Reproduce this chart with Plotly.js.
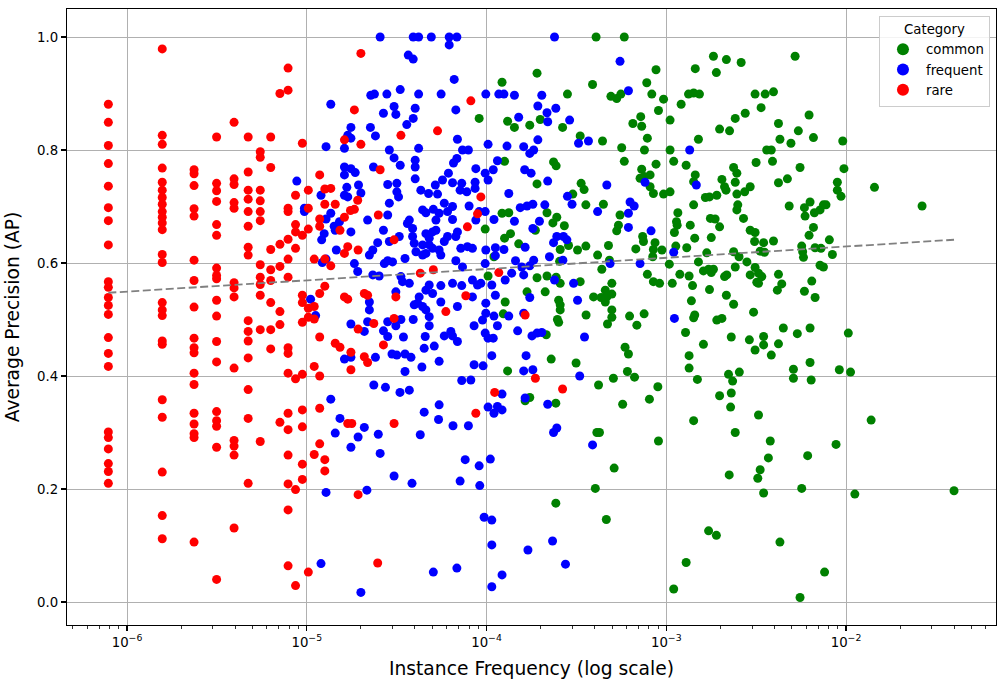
<!DOCTYPE html>
<html>
<head>
<meta charset="utf-8">
<script src="https://cdn.plot.ly/plotly-3.0.1.min.js"></script>
<style>html,body{margin:0;padding:0;background:#fff;}#chart{width:1006px;height:688px;}</style>
</head>
<body>
<div id="chart"></div>
<script>
// ---- DATA ----
const categories = ["common", "frequent", "rare"];
const categoryColors = ["#008000", "#0000ff", "#ff0000"];

// Rare categories sit on discrete frequency columns (1, 2, 3 ... instances)
const rareColumnFreq = [7.87e-7, 1.57e-6, 2.36e-6, 3.15e-6, 3.94e-6, 4.72e-6, 5.51e-6, 6.30e-6,
  7.09e-6, 7.87e-6, 8.66e-6, 9.45e-6, 1.02e-5, 1.10e-5, 1.18e-5, 1.26e-5];
const rareColumnAP = [
  [0.881,0.849,0.808,0.776,0.736,0.698,0.675,0.632,0.567,0.557,0.539,0.525,0.509,0.468,0.440,0.417,0.301,0.291,0.271,0.245,0.231,0.210],
  [0.979,0.826,0.810,0.768,0.743,0.729,0.716,0.704,0.691,0.681,0.671,0.659,0.615,0.601,0.530,0.517,0.507,0.462,0.456,0.358,0.327,0.230,0.153,0.112],
  [0.765,0.758,0.737,0.696,0.683,0.605,0.569,0.522,0.467,0.450,0.441,0.405,0.385,0.334,0.315,0.298,0.291,0.106],
  [0.823,0.741,0.728,0.709,0.668,0.649,0.591,0.578,0.572,0.534,0.506,0.461,0.425,0.337,0.321,0.311,0.274,0.040],
  [0.849,0.749,0.739,0.707,0.697,0.565,0.556,0.540,0.414,0.286,0.276,0.260,0.131],
  [0.823,0.761,0.729,0.713,0.691,0.665,0.628,0.614,0.498,0.479,0.462,0.432,0.376,0.325,0.210],
  [0.797,0.787,0.729,0.710,0.691,0.675,0.597,0.575,0.562,0.543,0.482,0.284],
  [0.823,0.769,0.624,0.588,0.569,0.530,0.482,0.448],
  [0.900,0.633,0.594,0.514,0.491,0.318],
  [0.945,0.906,0.697,0.691,0.642,0.607,0.575,0.450,0.440,0.405,0.334,0.305,0.260,0.209,0.163,0.064],
  [0.720,0.668,0.655,0.626,0.395,0.199,0.029],
  [0.812,0.649,0.543,0.530,0.495,0.403,0.340,0.310,0.244,0.217],
  [0.729,0.697,0.660,0.520,0.504,0.053],
  [0.607,0.523,0.501,0.417,0.261],
  [0.756,0.678,0.665,0.546,0.469,0.400,0.343,0.280],
  [0.731,0.704,0.607,0.559,0.252,0.232]
];
// Remaining rare points: [frequency, AP]
const rareOther = [
  [2.00e-5,0.971],[1.84e-5,0.871],[3.34e-5,0.826],[2.00e-5,0.810],[1.62e-5,0.818],[5.34e-5,0.834],[8.18e-5,0.887],[2.56e-5,0.765],[9.30e-5,0.717],[8.91e-5,0.687],
  [7.83e-5,0.664],[1.36e-5,0.732],[1.92e-5,0.711],[1.44e-5,0.704],[1.84e-5,0.695],[1.75e-5,0.693],[1.62e-5,0.681],[2.50e-5,0.685],[1.53e-5,0.658],[3.06e-5,0.641],
  [1.69e-5,0.629],[1.62e-5,0.617],[1.93e-5,0.623],[1.36e-5,0.595],[4.28e-5,0.582],[5.06e-5,0.588],[1.62e-5,0.540],[1.69e-5,0.536],[2.09e-5,0.546],[2.18e-5,0.543],
  [3.13e-5,0.540],[7.67e-5,0.542],[5.94e-5,0.514],
  [3.06e-5,0.502],[2.36e-5,0.493],[1.93e-5,0.483],[1.44e-5,0.458],[1.53e-5,0.451],[2.67e-5,0.455],[1.76e-5,0.442],[2.09e-5,0.434],[2.18e-5,0.424],[1.76e-5,0.411],
  [8.72e-5,0.334],[1.69e-5,0.316],[1.78e-5,0.316],[3.06e-5,0.316],[1.93e-5,0.190],[2.48e-5,0.069],
  [1.17e-4,0.583],[1.64e-4,0.508],[1.87e-4,0.396],[2.65e-4,0.377],[1.11e-4,0.371]
];

// Frequent points: [frequency, AP]
const frequentPoints = [
  [1.28e-5,0.806],[8.8e-6,0.745],[1.20e-5,0.720],[9.7e-6,0.697],[9.7e-6,0.691],[1.28e-5,0.678],[1.25e-5,0.652],[1.21e-5,0.641],[1.28e-5,0.607],[1.22e-5,0.601],
  [1.05e-5,0.536],[1.12e-5,0.507],[1.28e-5,0.194],[1.20e-5,0.068],
  [2.56e-5,1.000],[3.91e-5,1.000],[4.19e-5,1.000],[4.93e-5,1.000],[6.20e-5,1.000],[6.84e-5,1.000],[6.20e-5,0.986],[3.67e-5,0.968],[3.91e-5,0.961],[6.61e-5,0.925],
  [2.27e-5,0.897],[2.38e-5,0.899],[2.79e-5,0.899],[3.31e-5,0.907],[4.19e-5,0.899],[5.59e-5,0.899],[9.91e-5,0.899],[1.36e-5,0.881],[3.06e-5,0.877],
  [4.01e-5,0.874],[3.13e-5,0.863],[2.67e-5,0.865],[6.75e-5,0.871],[3.91e-5,0.856],[3.60e-5,0.845],[1.76e-5,0.840],[2.26e-5,0.840],[2.41e-5,0.825],[1.69e-5,0.826],
  [1.76e-5,0.821],[6.89e-5,0.819],[1.02e-4,0.810],[1.62e-5,0.803],[4.19e-5,0.803],[2.88e-5,0.800],[3.06e-5,0.786],[3.31e-5,0.773],[4.01e-5,0.782],[4.01e-5,0.770],
  [7.35e-5,0.800],[7.93e-5,0.800],[6.55e-5,0.777],[6.84e-5,0.785],[1.62e-5,0.770],[1.76e-5,0.767],[1.86e-5,0.760],[1.62e-5,0.756],[2.35e-5,0.770],[8.72e-5,0.767],
  [9.83e-5,0.759],[1.02e-4,0.747],[4.01e-5,0.749],[2.82e-5,0.739],[3.17e-5,0.741],[3.17e-5,0.726],[3.24e-5,0.717],[1.94e-5,0.738],[2.00e-5,0.724],[1.67e-5,0.734],
  [1.62e-5,0.720],[1.69e-5,0.717],[4.31e-5,0.729],[4.76e-5,0.723],[5.34e-5,0.722],[5.19e-5,0.738],[5.69e-5,0.747],[6.14e-5,0.759],[6.47e-5,0.742],[7.28e-5,0.741],
  [7.13e-5,0.729],[7.77e-5,0.726],[8.64e-5,0.743],[8.64e-5,0.732],[2.88e-5,0.706],[5.82e-5,0.706],[6.47e-5,0.700],[8.00e-5,0.701],[6.07e-5,0.691],[4.41e-5,0.694],
  [5.06e-5,0.695],[5.45e-5,0.688],[4.60e-5,0.689],[2.82e-5,0.685],[1.36e-5,0.688],[1.42e-5,0.665],[1.52e-5,0.673],[2.18e-5,0.676],[3.72e-5,0.676],[3.63e-5,0.670],
  [3.88e-5,0.661],[5.23e-5,0.676],[6.47e-5,0.677],[9.10e-5,0.691],[9.83e-5,0.691],[8.72e-5,0.676],[2.67e-5,0.658],[4.60e-5,0.652],[5.01e-5,0.655],[5.23e-5,0.658],
  [4.80e-5,0.644],[6.89e-5,0.655],[6.75e-5,0.647],[6.07e-5,0.647],[5.82e-5,0.638],[5.45e-5,0.623],[2.88e-5,0.638],[3.88e-5,0.647],[3.96e-5,0.635],[4.41e-5,0.632],
  [4.80e-5,0.632],[5.01e-5,0.626],[3.27e-5,0.647],[1.44e-5,0.658],[1.76e-5,0.655],[2.48e-5,0.636],[2.33e-5,0.623],[2.23e-5,0.614],[1.46e-5,0.623],[4.05e-5,0.620],
  [4.41e-5,0.614],[4.60e-5,0.617],[3.52e-5,0.608],[5.57e-5,0.614],[7.19e-5,0.626],[7.83e-5,0.629],[8.35e-5,0.626],[9.91e-5,0.623],[9.83e-5,0.599],[6.75e-5,0.604],
  [7.35e-5,0.593],[2.82e-5,0.604],[3.00e-5,0.602],[2.70e-5,0.599],[1.84e-5,0.599],[1.92e-5,0.585],[2.33e-5,0.579],[2.53e-5,0.577],[3.34e-5,0.576],[3.41e-5,0.567],
  [3.72e-5,0.564],[4.80e-5,0.561],[5.57e-5,0.560],[6.47e-5,0.564],[7.28e-5,0.560],[8.35e-5,0.570],[8.91e-5,0.561],[9.30e-5,0.564],[3.13e-5,0.549],[4.60e-5,0.552],
  [5.01e-5,0.546],[2.23e-5,0.531],[4.22e-5,0.540],[4.14e-5,0.529],[5.57e-5,0.531],[4.41e-5,0.523],[4.60e-5,0.517],[3.96e-5,0.526],[6.89e-5,0.523],[8.35e-5,0.540],
  [9.91e-5,0.529],[2.23e-5,0.517],[9.91e-5,0.511],
  [4.80e-5,0.505],[4.80e-5,0.489],[9.50e-5,0.499],[1.76e-5,0.492],[2.18e-5,0.496],[2.09e-5,0.479],[2.82e-5,0.496],[2.67e-5,0.480],[3.13e-5,0.489],[3.34e-5,0.500],
  [3.91e-5,0.500],[3.45e-5,0.469],[2.82e-5,0.470],[4.56e-5,0.470],[5.12e-5,0.453],[4.50e-5,0.449],[5.82e-5,0.471],[6.33e-5,0.479],[6.47e-5,0.471],[6.89e-5,0.461],
  [8.53e-5,0.489],[9.83e-5,0.476],[1.02e-4,0.467],[1.62e-5,0.430],[1.76e-5,0.433],[2.41e-5,0.433],[2.98e-5,0.439],[3.17e-5,0.437],[3.52e-5,0.439],[3.80e-5,0.433],
  [5.45e-5,0.426],[4.37e-5,0.416],[3.52e-5,0.408],[8.53e-5,0.420],[9.57e-5,0.418],[7.28e-5,0.392],[8.18e-5,0.393],[2.36e-5,0.384],[2.74e-5,0.380],[3.30e-5,0.371],
  [3.72e-5,0.375],[1.36e-5,0.359],[4.50e-5,0.336],[5.45e-5,0.349],[5.41e-5,0.323],[1.02e-4,0.345],[1.53e-5,0.325],[2.09e-5,0.309],[1.44e-5,0.299],[1.93e-5,0.292],
  [2.50e-5,0.297],[1.76e-5,0.274],[2.56e-5,0.263],[4.28e-5,0.296],[6.51e-5,0.312],[7.93e-5,0.312],[7.61e-5,0.252],[9.10e-5,0.241],[3.06e-5,0.223],[3.85e-5,0.210],
  [7.13e-5,0.214],[9.17e-5,0.206],[2.16e-5,0.198],[9.70e-5,0.150],[5.06e-5,0.053],[6.84e-5,0.060],[2.00e-5,0.017],
  [2.39e-4,1.000],[5.53e-4,0.957],[1.17e-4,0.899],[1.25e-4,0.899],[1.43e-4,0.897],[2.03e-4,0.897],[6.16e-4,0.905],[1.93e-4,0.878],[2.17e-4,0.866],[2.19e-4,0.850],
  [2.43e-4,0.874],[1.51e-4,0.858],[2.90e-4,0.853],[1.93e-4,0.818],[3.25e-4,0.812],[3.69e-4,0.816],[1.30e-4,0.807],[1.61e-4,0.806],[1.74e-4,0.794],[1.83e-4,0.800],
  [1.15e-4,0.781],[1.09e-4,0.765],[1.63e-4,0.765],[1.77e-4,0.759],[2.19e-4,0.745],[4.67e-4,0.738],[1.33e-4,0.723],[2.82e-4,0.718],[2.99e-4,0.704],[1.54e-4,0.698],
  [1.68e-4,0.701],[1.81e-4,0.704],[2.11e-4,0.703],[4.15e-4,0.691],[6.29e-4,0.708],[6.63e-4,0.701],[6.16e-4,0.688],[1.10e-4,0.677],[1.43e-4,0.674],[1.97e-4,0.674],
  [1.81e-4,0.661],[6.16e-4,0.663],[8.23e-4,0.657],[2.46e-4,0.647],[2.68e-4,0.647],[2.36e-4,0.636],[2.80e-4,0.641],[1.64e-4,0.628],[1.12e-4,0.627],[1.25e-4,0.624],
  [2.24e-4,0.611],[1.12e-4,0.613],[1.45e-4,0.604],[1.83e-4,0.605],[1.74e-4,0.595],[2.66e-4,0.605],[4.87e-4,0.599],[7.15e-4,0.599],[1.57e-4,0.593],[1.38e-4,0.582],
  [1.27e-4,0.570],[1.61e-4,0.579],[2.39e-4,0.570],[3.05e-4,0.564],[1.07e-4,0.561],[1.12e-4,0.543],[1.74e-4,0.539],[3.21e-4,0.534],[1.10e-4,0.506],[1.33e-4,0.506],
  [1.61e-4,0.511],[7.62e-4,0.743],
  [1.15e-4,0.489],[1.49e-4,0.480],[1.09e-4,0.467],[1.79e-4,0.471],[1.91e-4,0.476],[2.03e-4,0.477],[3.51e-4,0.469],[1.07e-4,0.436],[1.66e-4,0.436],[1.61e-4,0.409],
  [1.81e-4,0.411],[3.30e-4,0.400],[1.22e-4,0.368],[1.64e-4,0.361],[1.15e-4,0.346],[1.10e-4,0.334],[1.22e-4,0.340],[2.19e-4,0.350],[2.46e-4,0.308],[2.36e-4,0.300],
  [3.89e-4,0.278],[1.05e-4,0.253],[1.07e-4,0.145],[1.07e-4,0.101],[1.70e-4,0.092],[2.33e-4,0.108],[2.75e-4,0.067],[1.22e-4,0.048],[1.07e-4,0.027],
  [1.35e-3,0.800],[1.47e-3,0.738],[1.10e-3,0.619],[1.11e-3,0.502]
];

// Common points: [frequency, AP]
const commonPoints = [
  [9.10e-5,0.856],[9.83e-5,0.660],[1.02e-4,0.577],[1.10e-4,0.611],
  [4.07e-4,1.000],[5.84e-4,1.000],[1.91e-4,0.936],[8.77e-4,0.942],[1.22e-4,0.920],[3.89e-4,0.916],[7.79e-4,0.919],[2.82e-4,0.899],[4.92e-4,0.895],[5.30e-4,0.891],
  [5.59e-4,0.899],[8.31e-4,0.899],[9.05e-4,0.870],[1.31e-4,0.851],[1.43e-4,0.840],[1.74e-4,0.844],[1.99e-4,0.854],[2.65e-4,0.840],[6.52e-4,0.847],[7.21e-4,0.859],
  [7.30e-4,0.842],[7.85e-4,0.821],[3.32e-4,0.825],[4.42e-4,0.816],[5.65e-4,0.804],[7.56e-4,0.800],[1.26e-4,0.780],[2.36e-4,0.779],[2.44e-4,0.772],[5.84e-4,0.780],
  [8.77e-4,0.775],[1.91e-4,0.740],[3.36e-4,0.741],[3.49e-4,0.730],[3.02e-4,0.722],[7.30e-4,0.766],[7.53e-4,0.753],[7.15e-4,0.750],[8.13e-4,0.756],[8.48e-4,0.723],
  [8.13e-4,0.735],[3.57e-4,0.703],[4.47e-4,0.704],[1.22e-4,0.688],[1.33e-4,0.689],[2.17e-4,0.689],[2.46e-4,0.681],[2.34e-4,0.671],[2.71e-4,0.666],[5.53e-4,0.685],
  [5.42e-4,0.667],[5.30e-4,0.657],[1.87e-4,0.658],[1.36e-4,0.652],[1.26e-4,0.644],[1.51e-4,0.634],[2.57e-4,0.624],[2.86e-4,0.631],[3.21e-4,0.623],[3.57e-4,0.630],
  [4.77e-4,0.631],[4.15e-4,0.614],[7.39e-4,0.647],[7.47e-4,0.638],[8.66e-4,0.636],[6.77e-4,0.625],[8.48e-4,0.624],[8.41e-4,0.611],[4.38e-4,0.589],[4.83e-4,0.605],
  [2.55e-4,0.603],[1.91e-4,0.574],[2.17e-4,0.577],[2.44e-4,0.575],[2.57e-4,0.564],[3.32e-4,0.567],[4.98e-4,0.564],[7.85e-4,0.580],[8.48e-4,0.567],[9.18e-4,0.564],
  [1.68e-4,0.549],[2.12e-4,0.549],[4.58e-4,0.552],[4.67e-4,0.540],[4.98e-4,0.545],[3.94e-4,0.540],[4.34e-4,0.539],[4.58e-4,0.531],[1.27e-4,0.531],[2.52e-4,0.534],
  [2.57e-4,0.526],[2.57e-4,0.517],[4.98e-4,0.517],[3.58e-4,0.508],[6.25e-4,0.506],[7.53e-4,0.510],[4.98e-4,0.504],[2.48e-4,0.500],[1.24e-4,0.510],
  [2.52e-4,0.495],[4.71e-4,0.492],[6.86e-4,0.490],[2.15e-4,0.473],[2.29e-4,0.430],[3.15e-4,0.423],[5.90e-4,0.451],[6.16e-4,0.439],[1.31e-4,0.409],[6.08e-4,0.408],
  [5.08e-4,0.396],[6.66e-4,0.398],[4.20e-4,0.384],[8.98e-4,0.381],[8.06e-4,0.359],[5.72e-4,0.350],[1.64e-4,0.356],[1.74e-4,0.362],[2.43e-4,0.352],[4.11e-4,0.300],
  [4.25e-4,0.300],[9.05e-4,0.285],[5.13e-4,0.237],[4.03e-4,0.201],[2.43e-4,0.175],[4.64e-4,0.146],
  [1.83e-3,0.966],[2.16e-3,0.960],[2.61e-3,0.955],[5.21e-3,0.966],[1.45e-3,0.944],[1.90e-3,0.937],[9.66e-4,0.890],[1.21e-3,0.881],[1.33e-3,0.899],[1.42e-3,0.901],
  [1.53e-3,0.899],[3.12e-3,0.899],[3.55e-3,0.899],[3.95e-3,0.903],[3.37e-3,0.875],[1.05e-3,0.853],[2.42e-3,0.856],[2.75e-3,0.865],[6.23e-3,0.862],[1.98e-3,0.837],
  [2.25e-3,0.834],[4.21e-3,0.847],[1.51e-3,0.819],[4.29e-3,0.819],[4.94e-3,0.812],[5.43e-3,0.834],[6.59e-3,0.822],[1.05e-3,0.800],[3.62e-3,0.800],[3.84e-3,0.800],
  [1.10e-3,0.780],[1.29e-3,0.773],[3.16e-3,0.778],[3.90e-3,0.780],[5.55e-3,0.769],[2.37e-3,0.769],[2.47e-3,0.759],[2.42e-3,0.743],[1.45e-3,0.756],[1.42e-3,0.744],
  [2.04e-3,0.748],[2.11e-3,0.735],[2.15e-3,0.729],[4.21e-3,0.742],[4.72e-3,0.749],[9.66e-4,0.722],[1.05e-3,0.726],[1.65e-3,0.716],[1.74e-3,0.717],[1.91e-3,0.720],
  [2.47e-3,0.722],[2.73e-3,0.726],[2.93e-3,0.735],[1.42e-3,0.703],[2.50e-3,0.703],[2.47e-3,0.694],[2.69e-3,0.679],[4.83e-3,0.701],[5.87e-3,0.698],[6.31e-3,0.708],
  [5.92e-3,0.683],[6.67e-3,0.689],[7.17e-3,0.694],[7.49e-3,0.703],[1.16e-3,0.689],[1.14e-3,0.673],[1.15e-3,0.667],[1.11e-3,0.654],[1.36e-3,0.667],[1.76e-3,0.679],
  [1.87e-3,0.678],[1.98e-3,0.664],[1.78e-3,0.645],[1.44e-3,0.644],[2.93e-3,0.658],[3.12e-3,0.654],[6.59e-3,0.663],[6.23e-3,0.649],[1.13e-3,0.630],[1.30e-3,0.627],
  [9.46e-4,0.623],[1.68e-3,0.618],[2.37e-3,0.620],[2.54e-3,0.611],[3.10e-3,0.638],[3.48e-3,0.636],[3.95e-3,0.639],[3.33e-3,0.621],[3.52e-3,0.619],[5.67e-3,0.630],
  [5.74e-3,0.620],[5.80e-3,0.610],[6.73e-3,0.627],[7.26e-3,0.626],[7.17e-3,0.596],[7.49e-3,0.593],[1.04e-3,0.598],[1.51e-3,0.602],[1.61e-3,0.586],[1.72e-3,0.589],
  [1.83e-3,0.589],[1.78e-3,0.583],[2.42e-3,0.593],[2.81e-3,0.602],[3.12e-3,0.592],[3.26e-3,0.582],[3.40e-3,0.576],[1.19e-3,0.580],[1.34e-3,0.577],[2.11e-3,0.576],
  [2.17e-3,0.579],[2.93e-3,0.579],[3.19e-3,0.566],[3.26e-3,0.564],[4.21e-3,0.580],[4.39e-3,0.563],[4.15e-3,0.552],[5.87e-3,0.550],[6.45e-3,0.568],[6.73e-3,0.539],
  [1.08e-3,0.564],[1.40e-3,0.560],[1.74e-3,0.553],[2.16e-3,0.543],[2.37e-3,0.527],[1.38e-3,0.533],[3.06e-3,0.513],[1.44e-3,0.508],[1.42e-3,0.503],[2.04e-3,0.502],
  [1.91e-3,0.499],
  [1.28e-3,0.477],[1.61e-3,0.456],[2.30e-3,0.469],[2.90e-3,0.464],[3.48e-3,0.470],[3.48e-3,0.455],[3.12e-3,0.446],[3.84e-3,0.437],[4.21e-3,0.457],[4.48e-3,0.485],
  [5.36e-3,0.475],[6.31e-3,0.485],[1.34e-3,0.436],[1.34e-3,0.414],[1.49e-3,0.394],[2.22e-3,0.403],[2.34e-3,0.391],[2.55e-3,0.407],[5.10e-3,0.412],[5.10e-3,0.396],
  [6.31e-3,0.424],[6.40e-3,0.393],[1.98e-3,0.365],[2.30e-3,0.370],[2.28e-3,0.345],[3.26e-3,0.331],[1.42e-3,0.321],[2.42e-3,0.300],[3.79e-3,0.285],[3.70e-3,0.255],
  [6.12e-3,0.259],[3.33e-3,0.234],[3.23e-3,0.219],[2.24e-3,0.225],[3.48e-3,0.193],[5.67e-3,0.201],[1.72e-3,0.126],[1.90e-3,0.118],[4.29e-3,0.106],[1.29e-3,0.070],
  [7.60e-3,0.053],[1.10e-3,0.023],[5.55e-3,0.008],
  [9.59e-3,0.816],[9.74e-3,0.767],[8.95e-3,0.743],[8.95e-3,0.729],[9.38e-3,0.718],[7.74e-3,0.703],[1.44e-2,0.734],[2.65e-2,0.701],[8.08e-3,0.641],[8.40e-3,0.615],
  [1.03e-2,0.476],[9.18e-3,0.411],[1.06e-2,0.407],[1.38e-2,0.322],[8.80e-3,0.279],[1.12e-2,0.191],[3.99e-2,0.197]
];

const xTickVals = [1e-6, 1e-5, 1e-4, 1e-3, 1e-2];
const xTickText = ["10<sup>−6</sup>", "10<sup>−5</sup>", "10<sup>−4</sup>", "10<sup>−3</sup>", "10<sup>−2</sup>"];

// ---- build traces ----
const rareX = [], rareY = [];
rareColumnFreq.forEach((f, i) => rareColumnAP[i].forEach(ap => { rareX.push(f); rareY.push(ap); }));
rareOther.forEach(p => { rareX.push(p[0]); rareY.push(p[1]); });

const seriesX = [commonPoints.map(p => p[0]), frequentPoints.map(p => p[0]), rareX];
const seriesY = [commonPoints.map(p => p[1]), frequentPoints.map(p => p[1]), rareY];

const traces = categories.map((c, i) => ({
  type: 'scatter', mode: 'markers', name: c,
  x: seriesX[i], y: seriesY[i],
  marker: {color: categoryColors[i], size: 9, line: {width: 0}},
  hoverinfo: 'x+y+name'
}));

// least-squares trend of AP against log10(frequency)
const allX = [].concat(...seriesX), allY = [].concat(...seriesY);
const lx = allX.map(v => Math.log10(v));
const n = lx.length;
const mx = lx.reduce((a, b) => a + b, 0) / n, my = allY.reduce((a, b) => a + b, 0) / n;
let sxy = 0, sxx = 0;
for (let i = 0; i < n; i++) { sxy += (lx[i] - mx) * (allY[i] - my); sxx += (lx[i] - mx) * (lx[i] - mx); }
const slope = sxy / sxx, icpt = my - slope * mx;
const lmin = Math.min(...lx), lmax = Math.max(...lx);
traces.push({
  type: 'scatter', mode: 'lines', showlegend: false, hoverinfo: 'skip',
  x: [Math.pow(10, lmin), Math.pow(10, lmax)],
  y: [icpt + slope * lmin, icpt + slope * lmax],
  line: {color: '#808080', width: 1.8, dash: '8px,3.5px'}
});

const minorVals = [];
for (let e = -7; e <= -1; e++) for (let k = 2; k <= 9; k++) minorVals.push(k * Math.pow(10, e));

const font = 'DejaVu Sans, sans-serif';
const layout = {
  width: 1006, height: 688,
  margin: {l: 67, r: 10, t: 9, b: 63},
  paper_bgcolor: '#ffffff', plot_bgcolor: '#ffffff',
  font: {family: font, size: 13.3, color: '#000'},
  showlegend: true,
  xaxis: {
    type: 'log', range: [-6.334, -1.1655],
    tickmode: 'array', tickvals: xTickVals, ticktext: xTickText,
    ticks: 'outside', ticklen: 5, tickwidth: 1.1, tickcolor: '#000',
    showgrid: true, gridcolor: '#b0b0b0', gridwidth: 1,
    showline: true, linecolor: '#000', linewidth: 1.1, mirror: true,
    zeroline: false,
    tickfont: {family: font, size: 13.3, color: '#000'},
    minor: {tickmode: 'array', tickvals: minorVals, ticks: 'outside', ticklen: 2.8, tickwidth: 0.8, tickcolor: '#000', showgrid: false},
    title: {text: 'Instance Frequency (log scale)', font: {family: font, size: 18.7, color: '#000'}, standoff: 12}
  },
  yaxis: {
    range: [-0.0407, 1.0496],
    tickmode: 'array', tickvals: [0, 0.2, 0.4, 0.6, 0.8, 1.0], ticktext: ['0.0', '0.2', '0.4', '0.6', '0.8', '1.0'],
    ticks: 'outside', ticklen: 5, tickwidth: 1.1, tickcolor: '#000',
    showgrid: true, gridcolor: '#b0b0b0', gridwidth: 1,
    showline: true, linecolor: '#000', linewidth: 1.1, mirror: true,
    zeroline: false,
    tickfont: {family: font, size: 13.3, color: '#000'},
    title: {text: 'Average Precision (AP)', font: {family: font, size: 18.7, color: '#000'}, standoff: 12}
  },
  legend: {
    x: 0.9935, y: 0.989, xanchor: 'right', yanchor: 'top',
    bgcolor: 'rgba(255,255,255,0.85)', bordercolor: '#cccccc', borderwidth: 1,
    font: {family: font, size: 13.3, color: '#000'},
    title: {text: 'Category', side: 'top center', font: {family: font, size: 13.3, color: '#000'}},
    itemsizing: 'constant', itemwidth: 36
  }
};

Plotly.newPlot('chart', traces, layout, {displayModeBar: false, staticPlot: true});
</script>
</body>
</html>
